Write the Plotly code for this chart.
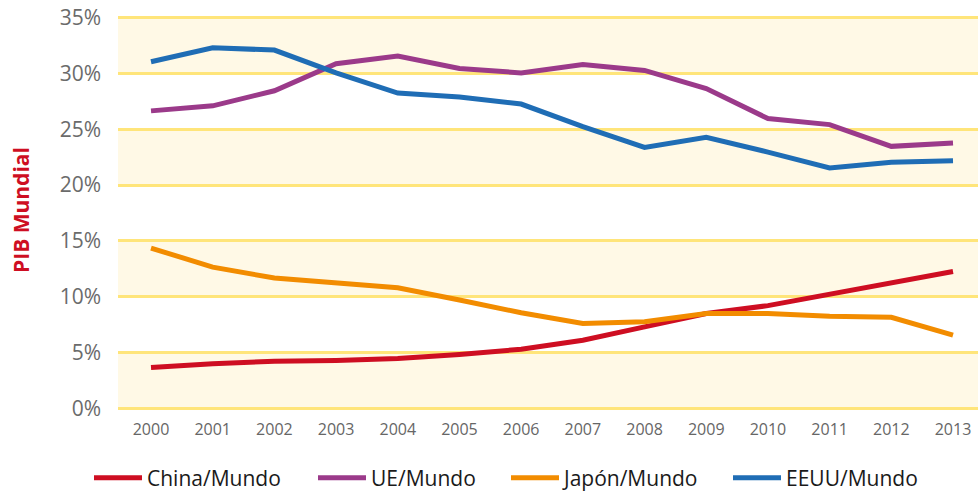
import plotly.graph_objects as go

years = list(range(2000, 2014))
year_labels = [str(y) for y in years]
china = [3.65, 4.0, 4.22, 4.28, 4.46, 4.82, 5.3, 6.1, 7.3, 8.5, 9.2, 10.2, 11.27, 12.26]
ue = [26.65, 27.1, 28.45, 30.87, 31.56, 30.45, 30.05, 30.8, 30.27, 28.65, 25.96, 25.42, 23.47, 23.77]
japon = [14.36, 12.65, 11.67, 11.26, 10.8, 9.7, 8.56, 7.6, 7.75, 8.5, 8.5, 8.25, 8.16, 6.55]
eeuu = [31.05, 32.3, 32.1, 30.06, 28.25, 27.9, 27.26, 25.24, 23.37, 24.28, 22.96, 21.53, 22.04, 22.19]
series_names = ["China/Mundo", "UE/Mundo", "Japón/Mundo", "EEUU/Mundo"]
series_vals = [china, ue, japon, eeuu]
series_colors = ["#CE0E22", "#9B3A8A", "#F28C00", "#1F6DB5"]
y_ticks = [0, 5, 10, 15, 20, 25, 30, 35]
y_labels = [f"{t}%" for t in y_ticks]
bands = [(0, 5), (10, 15), (20, 25), (30, 35)]

W, H = 979, 491
ml, mr, mt, mb = 118, 1, 16, 81
pw = W - ml - mr
ph = H - mt - mb

fig = go.Figure()
legend_x_px = [94, 318, 511, 733]
for i, (n, v, c) in enumerate(zip(series_names, series_vals, series_colors)):
    lg = "legend" if i == 0 else f"legend{i+1}"
    fig.add_trace(go.Scatter(x=list(range(len(years))), y=v, name=n, mode="lines",
                             line=dict(color=c, width=5), legend=lg))

shapes = []
for a, b in bands:
    shapes.append(dict(type="rect", xref="paper", yref="y", x0=0, x1=1, y0=a, y1=b,
                       fillcolor="#FFF9E6", line=dict(width=0), layer="below"))

layout_legends = {}
for i, px in enumerate(legend_x_px):
    key = "legend" if i == 0 else f"legend{i+1}"
    layout_legends[key] = dict(x=(px - 5 - ml) / pw, xanchor="left", y=(H - mb - 478) / ph,
                               yanchor="middle",
                               orientation="h", font=dict(size=21, color="#1a1a1a", family="Open Sans"),
                               bgcolor="rgba(0,0,0,0)", itemwidth=48)

fig.update_layout(
    width=W, height=H, margin=dict(l=ml, r=mr, t=mt, b=mb, autoexpand=False),
    paper_bgcolor="white", plot_bgcolor="white",
    shapes=shapes,
    xaxis=dict(range=[-0.535, 13.405], tickvals=list(range(len(years))), ticktext=year_labels,
               showgrid=False, zeroline=False, showline=False, ticks="",
               tickfont=dict(size=16, color="#666666", family="Open Sans"), ticklabelstandoff=8),
    yaxis=dict(range=[-0.15, 35.15], tickvals=y_ticks, ticktext=y_labels,
               showgrid=True, gridcolor="#FFE57A", gridwidth=3, zeroline=False, showline=False,
               ticks="", tickfont=dict(size=21, color="#6b6b6b", family="Open Sans"),
               ticklabelstandoff=16),
    annotations=[dict(text="<b>PIB Mundial</b>", xref="paper", yref="paper",
                      x=(21 - ml) / pw, y=(H - mb - 210) / ph, xanchor="center", yanchor="middle",
                      textangle=-90, showarrow=False,
                      font=dict(size=21, color="#CE0E22", family="Open Sans"))],
    showlegend=True,
    **layout_legends,
)
fig.write_html("out.html", config={"displayModeBar": False},
               post_script="document.body.style.margin='0';document.body.style.overflow='hidden';")
